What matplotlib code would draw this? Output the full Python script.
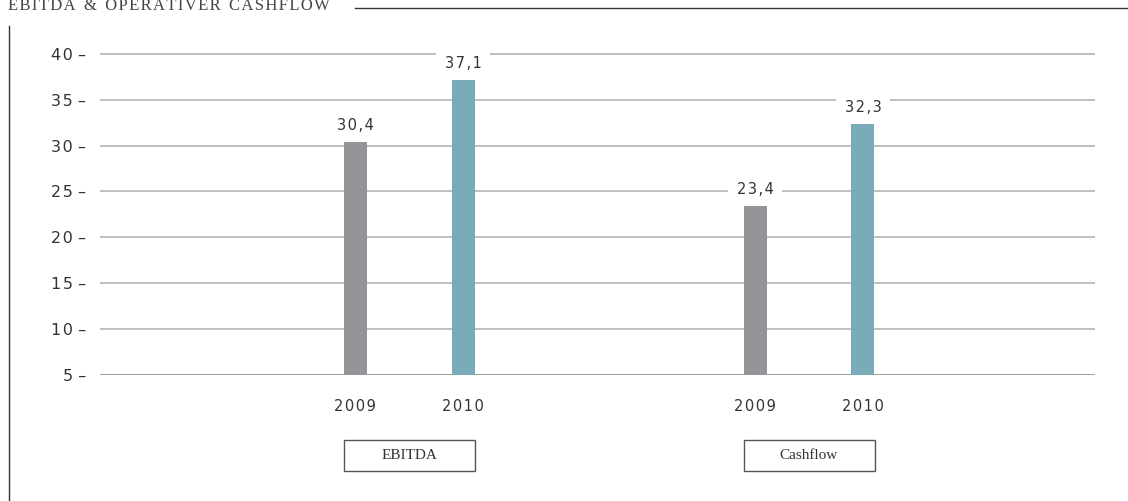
import matplotlib.pyplot as plt
from matplotlib.patches import Rectangle
import matplotlib.transforms as mtransforms

groups = ["EBITDA", "Cashflow"]
years = ["2009", "2010"]
values_2009 = [30.4, 23.4]
values_2010 = [37.1, 32.3]
labels_2009 = ["30,4", "23,4"]
labels_2010 = ["37,1", "32,3"]
yticks = [5, 10, 15, 20, 25, 30, 35, 40]

W, H = 1128, 501
fig = plt.figure(figsize=(W / 100, H / 100), dpi=100)


def spaced(s):
    return "\u200a".join(s)


# axes: y in data units, bottom at 5 -> pixel 375, 5 units = 45.9 px
px_per_unit = 45.9 / 5
ax_bottom_px = 375
ax = fig.add_axes([100 / W, 1 - ax_bottom_px / H, 995 / W, (ax_bottom_px - 20) / H])
ymax = 5 + (ax_bottom_px - 20) / px_per_unit
ax.set_ylim(5, ymax)
ax.set_xlim(0.2275, 2.715)

grey = "#939598"
teal = "#7aabb9"
off = 0.135
bw = 0.0575
centers = [1, 2]

for y in yticks[1:]:
    ax.axhline(y, color="#b4b4b4", lw=1.2, zorder=0)
ax.axhline(5, color="#8c8c8c", lw=1.2, zorder=0)

b1 = ax.bar([c - off for c in centers], [v - 5 for v in values_2009], bottom=5, width=bw, color=grey, zorder=2)
b2 = ax.bar([c + off for c in centers], [v - 5 for v in values_2010], bottom=5, width=bw, color=teal, zorder=2)

for bars, labs in ((b1, labels_2009), (b2, labels_2010)):
    for rect, lab in zip(bars, labs):
        ax.annotate(spaced(lab), (rect.get_x() + rect.get_width() / 2, rect.get_y() + rect.get_height()),
                    xytext=(0, 12), textcoords="offset points", ha="center", va="center",
                    fontsize=10.5, color="#333333",
                    bbox=dict(boxstyle="square,pad=0.6", fc="white", ec="none"), zorder=3)

for s in ax.spines.values():
    s.set_visible(False)
ax.set_xticks([])
ax.set_yticks(yticks)
ax.set_yticklabels([spaced(str(t)) + " \u2013" for t in yticks], fontsize=11.5, color="#333333")
ax.tick_params(axis="y", length=0, pad=10)

# year labels and group boxes
trans = mtransforms.blended_transform_factory(ax.transData, fig.transFigure)
for c, g in zip(centers, groups):
    for dx, yr in ((-off, years[0]), (off, years[1])):
        ax.annotate(spaced(yr), (c + dx, 5), xytext=(0, -23), textcoords="offset points",
                    ha="center", va="center", fontsize=10.5, color="#333333", annotation_clip=False)
    bx = 131 / 400
    ax.add_patch(Rectangle((c - bx / 2, 1 - 471 / H), bx, 31 / H, transform=trans,
                           fc="white", ec="#555555", lw=1, clip_on=False))
    ax.text(c, 1 - 455.5 / H, g, transform=trans, ha="center", va="center",
            fontsize=11, color="#333333", family="Liberation Serif")

# header
fig.text(8 / W, 1 - 6 / H, "E B I T D A  &  O P E R A T I V E R  C A S H F L O W".replace("  ", "\u2002").replace(" ", "\u200a"),
         fontsize=12, family="Liberation Serif", color="#444444", ha="left", va="center")
fig.add_artist(plt.Line2D([355 / W, 1], [1 - 8 / H, 1 - 8 / H], color="#333333", lw=1))
fig.add_artist(plt.Line2D([9 / W, 9 / W], [0, 1 - 26 / H], color="#333333", lw=1))

fig.savefig("out.png", dpi=100)
